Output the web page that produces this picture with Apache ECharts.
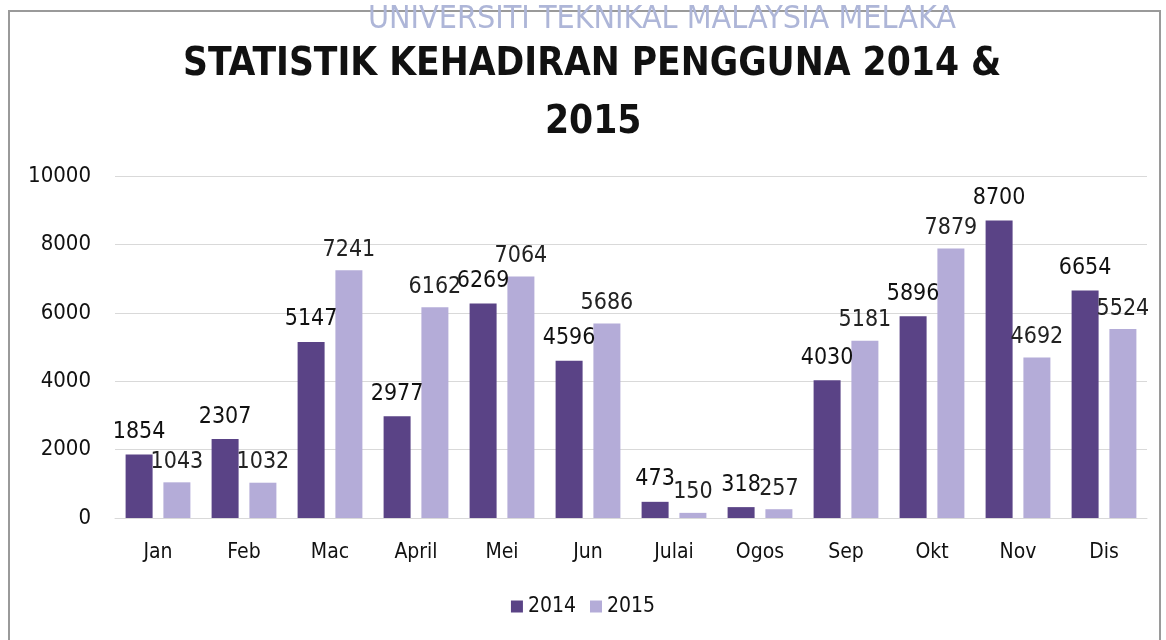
<!DOCTYPE html>
<html><head><meta charset="utf-8">
<script src="https://cdn.jsdelivr.net/npm/echarts@6/dist/echarts.min.js"></script>
<style>html,body{margin:0;padding:0;background:#fff}#c{width:1166px;height:640px}</style>
</head><body><div id="c"></div>
<script>
const categories = ['Jan','Feb','Mac','April','Mei','Jun','Julai','Ogos','Sep','Okt','Nov','Dis'];
const values2014 = [1854,2307,5147,2977,6269,4596,473,318,4030,5896,8700,6654];
const values2015 = [1043,1032,7241,6162,7064,5686,150,257,5181,7879,4692,5524];
const yTicks = [0,2000,4000,6000,8000,10000];
const seriesNames = ['2014','2015'];
const titleLines = ['STATISTIK KEHADIRAN PENGGUNA 2014 &','2015'];
const watermark = 'UNIVERSITI TEKNIKAL MALAYSIA MELAKA';

const F = '"DejaVu Sans Condensed","Liberation Sans Narrow","DejaVu Sans",sans-serif';
const titleStyle = {fontFamily:F,fontWeight:'bold',fontSize:38.5,color:'#111'};
const chart = echarts.init(document.getElementById('c'));
chart.setOption({
  animation:false,
  backgroundColor:'#fff',
  graphic:[
    {type:'rect',shape:{x:9,y:11,width:1151,height:640},style:{fill:'none',stroke:'#9a9a9a',lineWidth:2},z:0},
    {type:'text',left:368,top:4,style:{text:watermark,font:'32px '+F,fill:'#aeb6d8'},z:10},
  ],
  title:[
    {text:titleLines[0],left:178,top:40,textStyle:titleStyle},
    {text:titleLines[1],left:540,top:98,textStyle:titleStyle}
  ],
  legend:{bottom:18,left:'center',itemWidth:12,itemHeight:12,itemGap:14,icon:'rect',
    textStyle:{fontFamily:F,fontSize:21,color:'#111'},data:seriesNames},
  grid:{left:115,right:19,top:176,bottom:122},
  xAxis:{type:'category',data:categories,axisTick:{show:false},
    axisLine:{lineStyle:{color:'#d9d9d9',width:1}},
    axisLabel:{fontFamily:F,fontSize:21,color:'#111',margin:24}},
  yAxis:{type:'value',min:0,max:10000,interval:2000,
    axisLine:{show:false},axisTick:{show:false},
    splitLine:{lineStyle:{color:'#d9d9d9',width:1}},
    axisLabel:{fontFamily:F,fontSize:22,color:'#111',margin:24,formatter:v=>String(v)}},
  series:[
    {name:seriesNames[0],type:'bar',data:values2014,barWidth:27,barGap:'40%',
     itemStyle:{color:'#5a4386'},
     label:{show:true,position:'top',distance:11,fontFamily:F,fontSize:23,color:'#111'}},
    {name:seriesNames[1],type:'bar',data:values2015,barWidth:27,
     itemStyle:{color:'#b4acd8'},
     label:{show:true,position:'top',distance:9,fontFamily:F,fontSize:23,color:'#222'}}
  ]
});
</script></body></html>
